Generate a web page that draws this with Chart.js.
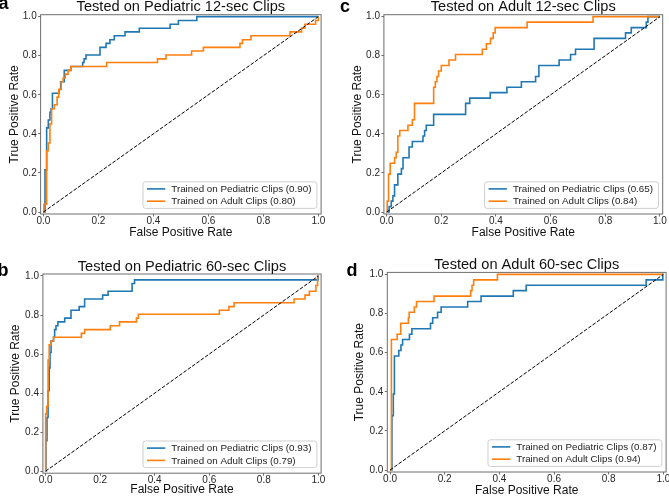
<!DOCTYPE html>
<html><head><meta charset="utf-8">
<script src="https://cdn.jsdelivr.net/npm/chart.js@4"></script>
<style>
html,body{margin:0;padding:0;background:#fff;width:669px;height:499px;overflow:hidden;}
canvas{position:absolute;left:0;top:0;}
</style></head><body>
<canvas id="pa" width="669" height="499"></canvas>
<canvas id="pb" width="669" height="499"></canvas>
<canvas id="pc" width="669" height="499"></canvas>
<canvas id="pd" width="669" height="499"></canvas>
<script>
// ---------- data ----------
const tickValues = [0, 0.2, 0.4, 0.6, 0.8, 1.0];
const diagFpr = [0, 1];
const diagTpr = [0, 1];
const seriesNames = ['Trained on Pediatric Clips', 'Trained on Adult Clips'];
const panelTitles = ['Tested on Pediatric 12-sec Clips', 'Tested on Pediatric 60-sec Clips', 'Tested on Adult 12-sec Clips', 'Tested on Adult 60-sec Clips'];
const panelLetters = ['a', 'b', 'c', 'd'];
const xAxisLabel = 'False Positive Rate';
const yAxisLabel = 'True Positive Rate';

// AUC values [pediatric-trained, adult-trained]
const aucA = ['0.90', '0.80'];
const aucB = ['0.93', '0.79'];
const aucC = ['0.65', '0.84'];
const aucD = ['0.87', '0.94'];

// Panel a: tested on pediatric 12-sec
const aPedFpr = [0, 0.006, 0.012, 0.018, 0.024, 0.028, 0.033, 0.057, 0.063, 0.076, 0.1, 0.143, 0.148, 0.155, 0.206, 0.228, 0.242, 0.258, 0.297, 0.349, 0.461, 0.491, 0.558, 1];
const aPedTpr = [0, 0.216, 0.431, 0.471, 0.51, 0.529, 0.608, 0.627, 0.667, 0.725, 0.745, 0.765, 0.784, 0.804, 0.843, 0.863, 0.882, 0.902, 0.922, 0.941, 0.961, 0.98, 1, 1];
const aAduFpr = [0, 0.002, 0.012, 0.018, 0.024, 0.03, 0.04, 0.05, 0.056, 0.065, 0.072, 0.08, 0.09, 0.1, 0.23, 0.415, 0.446, 0.539, 0.582, 0.715, 0.724, 0.755, 0.897, 0.939, 0.951, 0.99, 1];
const aAduTpr = [0, 0.04, 0.314, 0.353, 0.451, 0.529, 0.549, 0.588, 0.627, 0.667, 0.686, 0.706, 0.725, 0.745, 0.765, 0.784, 0.804, 0.824, 0.843, 0.863, 0.882, 0.902, 0.922, 0.941, 0.961, 0.98, 1];

// Panel b: tested on pediatric 60-sec
const bPedFpr = [0, 0.001, 0.005, 0.009, 0.013, 0.016, 0.02, 0.029, 0.033, 0.038, 0.045, 0.07, 0.093, 0.123, 0.143, 0.209, 0.229, 0.317, 0.326, 0.999, 1];
const bPedTpr = [0, 0.157, 0.275, 0.412, 0.529, 0.608, 0.667, 0.686, 0.725, 0.745, 0.765, 0.784, 0.824, 0.843, 0.882, 0.902, 0.922, 0.961, 0.98, 1, 1];
const bAduFpr = [0, 0, 0.004, 0.009, 0.013, 0.02, 0.029, 0.131, 0.143, 0.237, 0.271, 0.333, 0.34, 0.637, 0.672, 0.691, 0.911, 0.951, 0.967, 0.991, 0.997, 1];
const bAduTpr = [0, 0.294, 0.333, 0.569, 0.647, 0.667, 0.686, 0.706, 0.725, 0.745, 0.765, 0.784, 0.804, 0.824, 0.843, 0.863, 0.882, 0.902, 0.922, 0.951, 1, 1];

// Panel c: tested on adult 12-sec
const cPedFpr = [0, 0.009, 0.017, 0.023, 0.029, 0.041, 0.054, 0.06, 0.082, 0.094, 0.133, 0.139, 0.145, 0.172, 0.289, 0.304, 0.379, 0.44, 0.493, 0.545, 0.557, 0.631, 0.673, 0.691, 0.759, 0.874, 0.895, 0.95, 0.956, 1];
const cPedTpr = [0, 0.028, 0.056, 0.083, 0.139, 0.194, 0.222, 0.278, 0.333, 0.361, 0.389, 0.417, 0.444, 0.5, 0.556, 0.583, 0.611, 0.639, 0.667, 0.694, 0.75, 0.778, 0.806, 0.833, 0.889, 0.917, 0.944, 0.972, 1, 1];
const cAduFpr = [0, 0.002, 0.007, 0.013, 0.029, 0.035, 0.041, 0.048, 0.078, 0.094, 0.102, 0.172, 0.178, 0.184, 0.19, 0.2, 0.228, 0.252, 0.35, 0.365, 0.38, 0.39, 0.397, 0.514, 0.755, 1];
const cAduTpr = [0, 0.056, 0.194, 0.25, 0.278, 0.306, 0.389, 0.417, 0.444, 0.472, 0.556, 0.639, 0.667, 0.694, 0.722, 0.75, 0.778, 0.806, 0.833, 0.861, 0.889, 0.917, 0.944, 0.972, 1, 1];

// Panel d: tested on adult 60-sec
const dPedFpr = [0, 0.007, 0.012, 0.016, 0.032, 0.04, 0.046, 0.071, 0.08, 0.148, 0.156, 0.174, 0.187, 0.284, 0.333, 0.451, 0.498, 0.937, 0.998, 1];
const dPedTpr = [0, 0.278, 0.389, 0.583, 0.611, 0.639, 0.667, 0.694, 0.722, 0.75, 0.778, 0.806, 0.833, 0.861, 0.889, 0.917, 0.944, 0.972, 1, 1];
const dAduFpr = [0, 0.005, 0.026, 0.039, 0.067, 0.07, 0.089, 0.097, 0.161, 0.295, 0.3, 0.306, 0.393, 1];
const dAduTpr = [0, 0.667, 0.694, 0.75, 0.778, 0.806, 0.833, 0.861, 0.889, 0.917, 0.944, 0.972, 1, 1];

// ---------- layout / style ----------
const FAM = '"Liberation Sans", Arial, Helvetica, sans-serif';
const BLUE = '#1f77b4', ORANGE = '#ff7f0e';
const W = 669, H = 499, LH = 14.4;

const geoms = [
  {L: 40.6, T: 14.7, R: 321.1, B: 214,   yTitleX: 14.7,  xTitleMid: 232.5, titleBase: 10.7,  letterX: -1.5, letterBase: 9},
  {L: 42.9, T: 274,  R: 321.1, B: 473.2, yTitleX: 15.3,  xTitleMid: 490,   titleBase: 270.7, letterX: -2.5, letterBase: 276},
  {L: 383.9, T: 14.7, R: 662.7, B: 214,  yTitleX: 357.5, xTitleMid: 232.5, titleBase: 10.7,  letterX: 340,  letterBase: 12},
  {L: 387.3, T: 272.4, R: 666.1, B: 472, yTitleX: 359.5, xTitleMid: 490.5, titleBase: 268.5, letterX: 346.5, letterBase: 275.5}
];

const decor = {
  id: 'decor',
  afterDatasetsDraw(chart, args, o) {
    const ctx = chart.ctx, ca = chart.chartArea;
    ctx.save();
    // frame
    ctx.strokeStyle = '#6e6e6e';
    ctx.lineWidth = 1;
    ctx.strokeRect(ca.left, ca.top, ca.right - ca.left, ca.bottom - ca.top);
    // title
    ctx.fillStyle = '#111';
    ctx.font = '14.6px ' + FAM;
    ctx.textAlign = 'center';
    ctx.textBaseline = 'alphabetic';
    ctx.fillText(o.title, (ca.left + ca.right) / 2, o.titleBase);
    // panel letter
    ctx.fillStyle = '#000';
    ctx.font = 'bold 18px ' + FAM;
    ctx.textAlign = 'left';
    ctx.fillText(o.letter, o.letterX, o.letterBase);
    // legend
    const items = chart.data.datasets.filter(d => !d.isDiag).sort((a, b) => a.legendIndex - b.legendIndex);
    ctx.font = '9.8px ' + FAM;
    const tw = Math.max(...items.map(d => ctx.measureText(d.label).width));
    const bw = 4 + 18.3 + 6 + tw + 5.5, bh = 26.6;
    const bx = ca.right - 4.2 - bw, by = ca.bottom - 5.6 - bh;
    ctx.beginPath();
    if (ctx.roundRect) ctx.roundRect(bx, by, bw, bh, 2.5); else ctx.rect(bx, by, bw, bh);
    ctx.fillStyle = 'rgba(255,255,255,0.85)';
    ctx.fill();
    ctx.strokeStyle = '#cfcfcf';
    ctx.lineWidth = 1;
    ctx.stroke();
    items.forEach((d, i) => {
      const y = by + 7.1 + i * 12.3;
      ctx.beginPath();
      ctx.moveTo(bx + 4, y);
      ctx.lineTo(bx + 22.3, y);
      ctx.strokeStyle = d.borderColor;
      ctx.lineWidth = 1.6;
      ctx.stroke();
      ctx.fillStyle = '#222';
      ctx.textBaseline = 'middle';
      ctx.fillText(d.label, bx + 28.3, y + 0.5);
    });
    ctx.restore();
  }
};

function pts(xs, ys) { return xs.map((x, i) => ({x: x, y: ys[i]})); }

function makePanel(id, g, title, letter, pedF, pedT, aduF, aduT, auc) {
  const padLeft = g.yTitleX - LH / 2;
  const yW = g.L - padLeft;
  const xH = g.xTitleMid - g.B + LH / 2;
  const padBottom = H - g.B - xH;
  const tickFont = {size: 10, family: FAM};
  const common = {
    type: 'linear', min: -0.01, max: 1.01,
    grid: {drawOnChartArea: false, drawTicks: true, tickLength: 2.5, color: '#6e6e6e', lineWidth: 1},
    border: {display: false},
    afterBuildTicks: s => { s.ticks = tickValues.map(v => ({value: v})); }
  };
  new Chart(document.getElementById(id), {
    type: 'line',
    data: {
      datasets: [
        {label: 'diag', isDiag: true, data: pts(diagFpr, diagTpr), borderColor: '#000', borderWidth: 1, borderDash: [3.7, 1.6], pointRadius: 0, order: 0},
        {label: seriesNames[1] + ' (' + auc[1] + ')', legendIndex: 1, data: pts(aduF, aduT), borderColor: ORANGE, borderWidth: 1.6, pointRadius: 0, stepped: 'before', order: 1},
        {label: seriesNames[0] + ' (' + auc[0] + ')', legendIndex: 0, data: pts(pedF, pedT), borderColor: BLUE, borderWidth: 1.6, pointRadius: 0, stepped: 'before', order: 2}
      ]
    },
    options: {
      responsive: false,
      animation: false,
      devicePixelRatio: 1,
      layout: {autoPadding: false, padding: {left: padLeft, top: g.T, right: W - g.R, bottom: padBottom}},
      plugins: {
        legend: {display: false},
        tooltip: {enabled: false},
        decor: {title: title, letter: letter, titleBase: g.titleBase, letterX: g.letterX, letterBase: g.letterBase}
      },
      scales: {
        x: Object.assign({}, common, {
          position: 'bottom',
          ticks: {callback: v => Number(v).toFixed(1), font: tickFont, color: '#262626', padding: -1.3, maxRotation: 0, autoSkip: false},
          afterFit: s => { s.height = xH; s.paddingLeft = 0; s.paddingRight = 0; },
          title: {display: true, text: xAxisLabel, font: {size: 12, family: FAM, lineHeight: 1.2}, color: '#111', padding: 0}
        }),
        y: Object.assign({}, common, {
          position: 'left',
          ticks: {callback: v => Number(v).toFixed(1), font: tickFont, color: '#262626', padding: 1.4, maxRotation: 0, autoSkip: false},
          afterFit: s => { s.width = yW; s.paddingTop = 0; s.paddingBottom = 0; },
          title: {display: true, text: yAxisLabel, font: {size: 12, family: FAM, lineHeight: 1.2}, color: '#111', padding: 0}
        })
      }
    },
    plugins: [decor]
  });
}

makePanel('pa', geoms[0], panelTitles[0], panelLetters[0], aPedFpr, aPedTpr, aAduFpr, aAduTpr, aucA);
makePanel('pb', geoms[1], panelTitles[1], panelLetters[1], bPedFpr, bPedTpr, bAduFpr, bAduTpr, aucB);
makePanel('pc', geoms[2], panelTitles[2], panelLetters[2], cPedFpr, cPedTpr, cAduFpr, cAduTpr, aucC);
makePanel('pd', geoms[3], panelTitles[3], panelLetters[3], dPedFpr, dPedTpr, dAduFpr, dAduTpr, aucD);
</script>
</body></html>
